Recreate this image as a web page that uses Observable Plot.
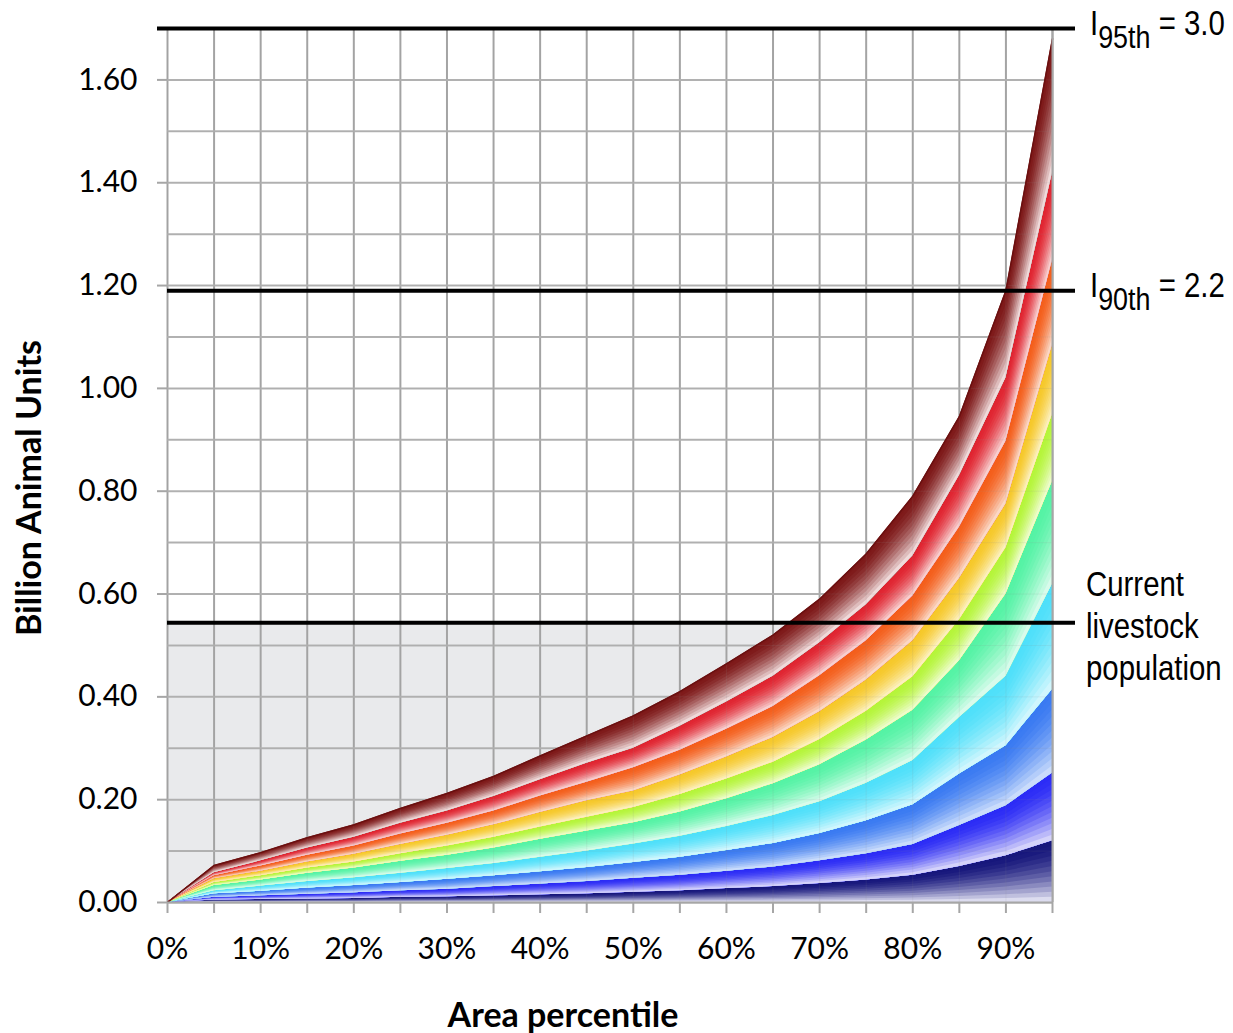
<!DOCTYPE html>
<html>
<head>
<meta charset="utf-8">
<script src="https://cdn.jsdelivr.net/npm/d3@7"></script>
<script src="https://cdn.jsdelivr.net/npm/@observablehq/plot@0.6"></script>
<style>
  html, body { margin: 0; padding: 0; background: #fff; }
  #chart { width: 1233px; height: 1033px; }
</style>
</head>
<body>
<div id="chart"></div>
<script>
// ---- Data ----
const areaPct = [0, 5, 10, 15, 20, 25, 30, 35, 40, 45, 50, 55, 60, 65, 70, 75, 80, 85, 90, 95];

// cumulative top boundary of each colour group (billion animal units)
const topNavy   = [0, .005, .006, .007, .008, .010, .011, .013, .015, .017, .020, .023, .027, .031, .037, .044, .053, .070, .091, .120];
const topBlue   = [0, .010, .013, .016, .019, .023, .026, .031, .036, .041, .047, .053, .061, .069, .081, .095, .113, .150, .188, .252];
const topCorn   = [0, .017, .022, .028, .033, .039, .045, .052, .060, .068, .078, .088, .101, .115, .134, .159, .190, .250, .305, .415];
const topCyan   = [0, .023, .032, .041, .048, .057, .066, .076, .088, .100, .114, .129, .148, .169, .196, .232, .276, .360, .440, .620];
const topAqua   = [0, .033, .044, .057, .067, .080, .092, .106, .123, .139, .155, .176, .202, .231, .268, .316, .374, .470, .600, .820];
const topLime   = [0, .039, .052, .067, .079, .095, .110, .127, .147, .166, .185, .210, .240, .273, .317, .372, .439, .550, .690, .950];
const topYellow = [0, .046, .061, .079, .094, .113, .131, .151, .175, .198, .217, .248, .283, .321, .371, .433, .509, .630, .775, 1.085];
const topOrange = [0, .052, .071, .092, .110, .133, .154, .178, .207, .234, .262, .296, .337, .381, .441, .509, .596, .730, .897, 1.25];
const topRed    = [0, .058, .081, .106, .127, .154, .178, .206, .239, .271, .300, .343, .390, .440, .505, .579, .674, .830, 1.02, 1.42];
const topDark   = [0, .072, .097, .126, .151, .183, .212, .245, .285, .324, .363, .410, .464, .520, .590, .678, .790, .945, 1.19, 1.68];

// group colours: [saturated top, pale bottom]
const groupTops = [topNavy, topBlue, topCorn, topCyan, topAqua, topLime, topYellow, topOrange, topRed, topDark];
const groupColors = [
  ["#17177c", "#dcdcef"],
  ["#2c2cf6", "#d4d2fa"],
  ["#3a7af2", "#cadcfb"],
  ["#4fe0fa", "#d0f6fd"],
  ["#55f3a5", "#d8fbeb"],
  ["#b5f53a", "#edfccb"],
  ["#f6c829", "#fcf0bd"],
  ["#f45e1b", "#fad8c6"],
  ["#e02430", "#f7cfcf"],
  ["#7d1818", "#efdada"]
];

// reference levels
const level95 = 1.70;   // I95th = 3.0
const level90 = 1.19;   // I90th = 2.2
const levelCurrent = 0.544; // current livestock population

// ticks
const xTicks = [0, 5, 10, 15, 20, 25, 30, 35, 40, 45, 50, 55, 60, 65, 70, 75, 80, 85, 90, 95];
const yTicks = [0, 0.2, 0.4, 0.6, 0.8, 1.0, 1.2, 1.4, 1.6];
const yGrid = [0, 0.1, 0.2, 0.3, 0.4, 0.5, 0.6, 0.7, 0.8, 0.9, 1.0, 1.1, 1.2, 1.3, 1.4, 1.5, 1.6, 1.7];

// ---- Build marks ----
const K = 12; // shading sub-layers per group (visual gradient)
const areaMarks = [];
groupTops.forEach((tops, gi) => {
  const lows = gi === 0 ? areaPct.map(() => 0) : groupTops[gi - 1];
  const rows = areaPct.map((x, j) => ({x, lo: lows[j], hi: tops[j]}));
  const interp = d3.interpolateRgb(groupColors[gi][0], groupColors[gi][1]);
  for (let s = 0; s < K; s++) {
    const f = 1 - s / K;
    const t = Math.pow(s / (K - 1), 1.7);
    areaMarks.push(Plot.areaY(rows, {
      x: "x",
      y1: "lo",
      y2: d => d.lo + (d.hi - d.lo) * f,
      fill: interp(t),
      curve: "linear"
    }));
  }
});

const topRows = areaPct.map((x, j) => ({x, y: topDark[j]}));

const chart = Plot.plot({
  width: 1233,
  height: 1033,
  marginLeft: 167,
  marginRight: 181,
  marginTop: 28,
  marginBottom: 131,
  style: {fontFamily: "Lato, 'Open Sans', sans-serif", fontSize: "29px", color: "black", background: "white"},
  x: {domain: [0, 95]},
  y: {domain: [0, 1.7]},
  marks: [
    Plot.rect([levelCurrent], {x1: 0, x2: 95, y1: 0, y2: d => d, fill: "#e9eaec"}),
    Plot.ruleX(xTicks, {y1: 0, y2: 1.7, stroke: "#a6a6a6", strokeWidth: 2}),
    Plot.ruleY(yGrid, {x1: 0, x2: 95, stroke: "#b4b4b4", strokeWidth: 2}),
    ...areaMarks,
    Plot.ruleX(xTicks, {y1: 0, y2: 1.7, stroke: "#888", strokeWidth: 1, strokeOpacity: 0.12}),
    Plot.ruleY(yGrid, {x1: 0, x2: 95, stroke: "#888", strokeWidth: 1, strokeOpacity: 0.12}),
    Plot.line(topRows, {x: "x", y: "y", stroke: "#6a1010", strokeWidth: 1.5}),
    Plot.ruleX([95], {y1: 0, y2: 1.7, stroke: "#a6a6a6", strokeWidth: 2}),
    Plot.ruleY([0], {x1: 0, x2: 95, stroke: "#a6a6a6", strokeWidth: 2}),
    Plot.ruleY([level95], {stroke: "black", strokeWidth: 4, insetLeft: -10, insetRight: -23}),
    Plot.ruleY([level90], {stroke: "black", strokeWidth: 4, insetRight: -23}),
    Plot.ruleY([levelCurrent], {stroke: "black", strokeWidth: 4, insetRight: -23}),
    Plot.axisX({ticks: xTicks, tickFormat: d => d % 10 === 0 ? d + "%" : "", tickSize: 11, tickPadding: 24,
      stroke: "#a6a6a6", strokeWidth: 2, fill: "black", label: null, fontSize: 30}),
    Plot.axisY({ticks: yTicks, tickFormat: d => d.toFixed(2), tickSize: 10, tickPadding: 20,
      stroke: "#a6a6a6", strokeWidth: 2, fill: "black", label: null, fontSize: 30})
  ]
});

document.getElementById("chart").appendChild(chart);

// ---- Annotations ----
const svg = d3.select(chart);
const ys = chart.scale("y");
const labFont = "'Liberation Sans', Arial, sans-serif";
const narrow = 0.84;

function subLabel(value, sub, rest) {
  const y0 = ys.apply(value);
  const g = svg.append("g").attr("transform", `translate(1090,${y0 + 7}) scale(${narrow},1)`);
  const t = g.append("text")
    .attr("x", 0)
    .attr("y", 0)
    .attr("text-anchor", "start")
    .attr("font-family", labFont)
    .attr("font-size", 35)
    .attr("fill", "black");
  t.append("tspan").text("I");
  t.append("tspan").attr("dy", 13).attr("font-size", 32).text(sub);
  t.append("tspan").attr("dy", -13).text(rest);
}
subLabel(level95, "95th", " = 3.0");
subLabel(level90, "90th", " = 2.2");

const cg = svg.append("g").attr("transform", `translate(1086,0) scale(${narrow},1)`);
const cur = cg.append("text")
  .attr("text-anchor", "start")
  .attr("font-family", labFont)
  .attr("font-size", 35)
  .attr("fill", "black");
["Current", "livestock", "population"].forEach((s, i) => {
  cur.append("tspan").attr("x", 0).attr("y", 596 + i * 42).text(s);
});

svg.append("text")
  .attr("transform", "translate(41,488) rotate(-90)")
  .attr("text-anchor", "middle")
  .attr("font-family", "Lato, 'Open Sans', sans-serif")
  .attr("font-weight", "bold")
  .attr("font-size", 34)
  .attr("fill", "black")
  .text("Billion Animal Units");

svg.append("text")
  .attr("x", 563)
  .attr("y", 1027)
  .attr("text-anchor", "middle")
  .attr("font-family", "Lato, 'Open Sans', sans-serif")
  .attr("font-weight", "bold")
  .attr("font-size", 34)
  .attr("fill", "black")
  .text("Area percentile");
</script>
</body>
</html>
